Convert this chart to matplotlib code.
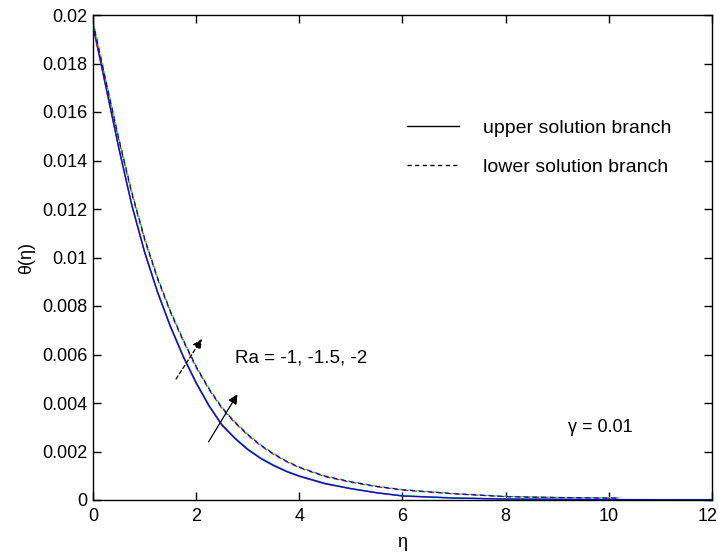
import matplotlib
matplotlib.use("Agg")
import matplotlib.pyplot as plt
import matplotlib.transforms as mtransforms
from matplotlib.lines import Line2D

plt.rcParams['font.family'] = ['Liberation Sans', 'DejaVu Sans']

# ---- data ----
eta_upper = [0, 0.25, 0.5, 0.75, 1, 1.25, 1.5, 1.75, 2, 2.25, 2.5, 2.75, 3, 3.25, 3.5, 3.75, 4,
             4.5, 5, 5.5, 6, 7, 8, 9, 10, 11, 12]
upper_red = [0.0195, 0.01700, 0.01448, 0.01214, 0.01019, 0.00855, 0.00713, 0.00589, 0.00480,
             0.00386, 0.00307, 0.00253, 0.00207, 0.00171, 0.00141, 0.00117, 0.00097,
             0.00066, 0.00046, 0.00029, 0.00016, 0.00008, 0.00004, 0.00002, 0.00001, 0.00001, 0.00001]
upper_green = [0.0196, 0.01708, 0.01456, 0.01222, 0.01027, 0.00862, 0.00720, 0.00595, 0.00486,
               0.00391, 0.00312, 0.00257, 0.00211, 0.00174, 0.00145, 0.00120, 0.00100,
               0.00069, 0.00048, 0.00031, 0.00018, 0.00009, 0.00005, 0.00003, 0.00002, 0.00002, 0.00002]
upper_blue = [0.0196, 0.01705, 0.01453, 0.01219, 0.01024, 0.00859, 0.00717, 0.00592, 0.00484,
              0.00389, 0.00310, 0.00255, 0.00209, 0.00172, 0.00143, 0.00118, 0.00099,
              0.00068, 0.00047, 0.00030, 0.00017, 0.00008, 0.00004, 0.00003, 0.00002, 0.00001, 0.00001]

eta_lower = [0, 0.25, 0.5, 0.75, 1, 1.25, 1.5, 1.75, 2, 2.25, 2.5, 2.75, 3, 3.25, 3.5, 3.75, 4,
             4.5, 5, 5.5, 6, 7, 8, 9, 10, 10.2]
lower_red = [0.0196, 0.01722, 0.01484, 0.01264, 0.01073, 0.00912, 0.00774, 0.00655, 0.00546,
             0.00455, 0.00377, 0.00318, 0.00267, 0.00224, 0.00188, 0.00158, 0.00133,
             0.00096, 0.00073, 0.00055, 0.00041, 0.00025, 0.00014, 0.00010, 0.00008, 0.00008]
lower_green = [0.0198, 0.01732, 0.01494, 0.01274, 0.01082, 0.00920, 0.00782, 0.00662, 0.00553,
               0.00461, 0.00383, 0.00323, 0.00272, 0.00228, 0.00192, 0.00161, 0.00136,
               0.00099, 0.00076, 0.00057, 0.00043, 0.00027, 0.00015, 0.00011, 0.00009, 0.00009]
lower_blue = [0.0197, 0.01727, 0.01489, 0.01269, 0.01078, 0.00916, 0.00778, 0.00658, 0.00550,
              0.00458, 0.00380, 0.00321, 0.00270, 0.00226, 0.00190, 0.00160, 0.00135,
              0.00098, 0.00075, 0.00056, 0.00042, 0.00026, 0.00014, 0.00010, 0.00008, 0.00008]

xticks = [0, 2, 4, 6, 8, 10, 12]
yticks = [0, 0.002, 0.004, 0.006, 0.008, 0.01, 0.012, 0.014, 0.016, 0.018, 0.02]
ytick_labels = ['0', '0.002', '0.004', '0.006', '0.008', '0.01', '0.012', '0.014', '0.016', '0.018', '0.02']

fig = plt.figure(figsize=(7.18, 5.54), dpi=100)
ax = fig.add_axes([93 / 718, 1 - 500 / 554, (712 - 93) / 718, (500 - 15) / 554])

lw = 0.9
dash = (4, 3)
ax.plot(eta_upper, upper_red, color='red', lw=lw)
ax.plot(eta_upper, upper_green, color='#00ff00', lw=lw)
ax.plot(eta_upper, upper_blue, color='blue', lw=lw)
ax.plot(eta_lower, lower_red, color='red', lw=lw, dashes=dash)
ax.plot(eta_lower, lower_green, color='#00ff00', lw=lw, dashes=dash)
ax.plot(eta_lower, lower_blue, color='blue', lw=lw, dashes=dash)

ax.set_xlim(0, 12)
ax.set_ylim(0, 0.02)
ax.set_xticks(xticks)
ax.set_xticklabels([str(t) for t in xticks])
ax.set_yticks(yticks)
ax.set_yticklabels(ytick_labels)
ax.tick_params(direction='in', length=6, width=1, top=True, right=True, labelsize=13)
ax.tick_params(axis='x', pad=6)
ax.tick_params(axis='y', pad=4)
for s in ax.spines.values():
    s.set_linewidth(1)

# nudge the last x tick label so it stays inside the figure
last = ax.get_xticklabels()[-1]
last.set_transform(last.get_transform() + mtransforms.ScaledTranslation(-4 / 100, 0, fig.dpi_scale_trans))

ax.set_xlabel('η', fontsize=13, labelpad=6)
ax.set_ylabel('θ(η)', fontsize=13, labelpad=5)

# arrows
ax.annotate('', xy=(2.11, 0.00664), xytext=(1.61, 0.00499),
            arrowprops=dict(arrowstyle='-|>', color='black', lw=0.9, linestyle=(0, (3, 2)),
                            mutation_scale=14, shrinkA=0, shrinkB=0))
ax.annotate('', xy=(2.80, 0.00436), xytext=(2.24, 0.00240),
            arrowprops=dict(arrowstyle='-|>', color='black', lw=0.9,
                            mutation_scale=14, shrinkA=0, shrinkB=0))

ax.text(2.75, 0.00586, 'Ra = -1, -1.5, -2', fontsize=13.5, va='center', ha='left')
ax.text(9.2, 0.00301, 'γ = 0.01', fontsize=13, va='center', ha='left')

handles = [Line2D([0], [0], color='black', lw=1),
           Line2D([0], [0], color='black', lw=1, dashes=(3, 2.5))]
ax.legend(handles, ['upper solution branch', 'lower solution branch'], loc='upper left',
          bbox_to_anchor=((407 - 93) / 619, 1 - (119 - 15) / 485), frameon=False,
          fontsize=14, handlelength=2.67, handletextpad=1.24, labelspacing=1.1,
          borderaxespad=0, borderpad=0)

fig.savefig('out.png', dpi=100)
